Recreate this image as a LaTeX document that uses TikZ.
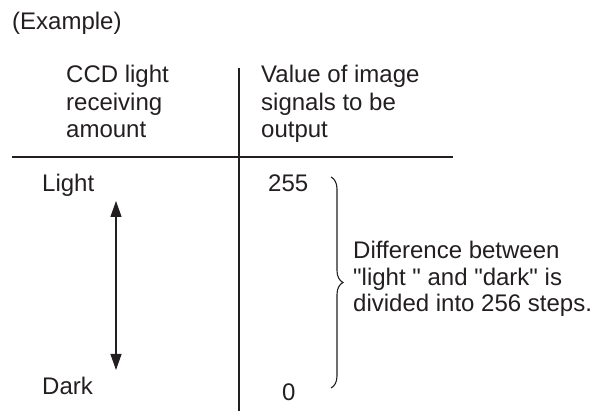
\documentclass[tikz,border=0pt]{standalone}
\usepackage{fontspec}
\setmainfont{Liberation Sans}
\usetikzlibrary{arrows.meta,decorations.pathreplacing}
\definecolor{ink}{HTML}{231F20}
\tikzset{
  txt/.style={anchor=base west,inner sep=0pt,text=ink,font=\fontsize{24}{28}\selectfont},
  rule/.style={draw=ink,line width=1.1pt},
  bothway/.style={draw=ink,line width=1.1pt,{Triangle[length=16pt,width=11pt]}-{Triangle[length=16pt,width=11pt]}},
  bracestyle/.style={draw=ink,line width=1.1pt,decorate,decoration={brace,amplitude=12pt}}
}
\begin{document}
\begin{tikzpicture}[x=1pt,y=-1pt]
\useasboundingbox (0,0) rectangle (598,411);
\node[txt] (ex) at (12,30) {(Example)};
\node[txt] (ccda) at (66,83) {CCD light};
\node[txt] (ccdb) at (66,110.5) {receiving};
\node[txt] (ccdc) at (66,138) {amount};
\node[txt] (vala) at (261,83) {Value of image};
\node[txt] (valb) at (261,110.5) {signals to be};
\node[txt] (valc) at (261,138) {output};
\coordinate (vtop) at (239,68);
\coordinate (vbot) at (239,411);
\coordinate (hl) at (12,157);
\coordinate (hr) at (453,157);
\draw[rule] (vtop) -- (vbot);
\draw[rule] (hl) -- (hr);
\node[txt] (light) at (42,192) {Light};
\node[txt] (dark) at (42,395) {Dark};
\coordinate (atop) at (116,201);
\coordinate (abot) at (116,370);
\draw[bothway] (atop) -- (abot);
\node[txt] (hi) at (268,192) {255};
\node[txt] (lo) at (282,401) {0};
\coordinate (btop) at (331,177);
\coordinate (bbot) at (331,388);
\draw[bracestyle] (btop) -- (bbot);
\node[txt] (da) at (353,259) {Difference between};
\node[txt] (db) at (353,285.5) {\textquotedbl light \textquotedbl{} and \textquotedbl dark\textquotedbl{} is};
\node[txt] (dc) at (353,312) {divided into 256 steps.};
\end{tikzpicture}
\end{document}
